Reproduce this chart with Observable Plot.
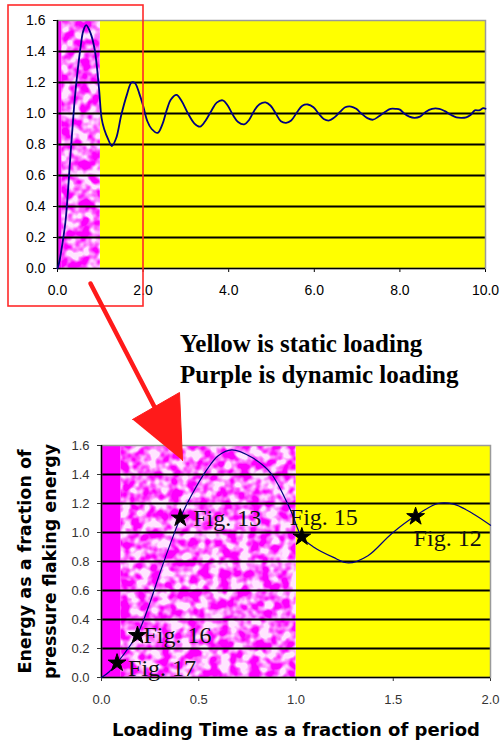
<!DOCTYPE html>
<html>
<head>
<meta charset="utf-8">
<script src="https://cdn.jsdelivr.net/npm/d3@7"></script>
<script src="https://cdn.jsdelivr.net/npm/@observablehq/plot@0.6"></script>
<style>
  html, body { margin: 0; padding: 0; background: #fff; }
  #page { position: relative; width: 504px; height: 742px; overflow: hidden; background: #fff; }
  #top, #bottom, #overlay { position: absolute; left: 0; }
  #top { top: 0; }
  #bottom { top: 430px; }
  #overlay { top: 0; pointer-events: none; }
  #legend { position: absolute; left: 180px; top: 328px; font: bold 25px/31px "Liberation Serif", "Times New Roman", serif; color: #000; white-space: nowrap; }
</style>
</head>
<body>
<div id="page">
  <div id="top"></div>
  <div id="legend"></div>
  <div id="bottom"></div>
  <div id="overlay"></div>
</div>
<script>
// ---- data ----
const curveTime   = [0, 0.04, 0.08, 0.185, 0.25, 0.3, 0.37, 0.405, 0.46, 0.54, 0.6, 0.67, 0.77, 0.87, 0.97, 1.03, 1.09, 1.19, 1.27, 1.37, 1.49, 1.62, 1.73, 1.81, 1.91, 2.0,
  2.1, 2.2, 2.34, 2.45, 2.55, 2.65, 2.78, 2.9, 3.05, 3.2, 3.33, 3.45, 3.6, 3.72, 3.86, 3.98, 4.1, 4.22, 4.36, 4.48, 4.6, 4.72, 4.86, 4.98,
  5.1, 5.22, 5.34, 5.46, 5.6, 5.72, 5.85, 5.98, 6.1, 6.22, 6.35, 6.47, 6.6, 6.72, 6.86, 6.98, 7.1, 7.24, 7.37, 7.5, 7.65, 7.78, 7.91, 8.0,
  8.1, 8.22, 8.34, 8.47, 8.6, 8.75, 8.92, 9.05, 9.2, 9.32, 9.43, 9.55, 9.65, 9.75, 9.85, 9.95, 10];
const curveEnergy = [0, 0.04, 0.10, 0.30, 0.52, 0.72, 0.98, 1.10, 1.25, 1.43, 1.53, 1.57, 1.52, 1.41, 1.16, 0.97, 0.90, 0.83, 0.79, 0.84, 0.99, 1.12, 1.20, 1.196, 1.13, 1.05,
  0.95, 0.90, 0.875, 0.93, 1.02, 1.09, 1.12, 1.08, 1.0, 0.935, 0.915, 0.95, 1.02, 1.07, 1.085, 1.05, 0.99, 0.945, 0.93, 0.96, 1.02, 1.06, 1.072, 1.05,
  1.0, 0.95, 0.94, 0.955, 1.01, 1.05, 1.058, 1.04, 1.0, 0.965, 0.955, 0.975, 1.01, 1.04, 1.045, 1.03, 1.0, 0.97, 0.96, 0.98, 1.01, 1.03, 1.03, 1.025,
  1.0, 0.98, 0.972, 0.98, 1.01, 1.03, 1.03, 1.015, 0.99, 0.975, 0.972, 0.975, 0.99, 1.02, 1.02, 1.035, 1.03];

const figNames  = ["Fig. 17", "Fig. 16", "Fig. 13", "Fig. 15", "Fig. 12"];
const figTime   = [0.08, 0.185, 0.405, 1.03, 1.615];
const figEnergy = [0.10, 0.29, 1.10, 0.97, 1.11];

const regionStart = [0, 0.1, 1];
const regionEnd   = [0.1, 1, 10];
const regionKind  = ["dynamic-solid", "dynamic", "static"];

const yTicks       = [0, 0.2, 0.4, 0.6, 0.8, 1.0, 1.2, 1.4, 1.6];
const gridLevels   = [0.2, 0.4, 0.6, 0.8, 1.0, 1.2, 1.4];
const topXTicks    = [0, 2, 4, 6, 8, 10];
const bottomXTicks = [0, 0.5, 1, 1.5, 2];

const legendLines = ["Yellow is static loading", "Purple is dynamic loading"];
const yTitleLines = ["Energy as a fraction of", "pressure flaking energy"];
const xTitle = "Loading Time as a fraction of period";

// ---- annotation geometry (page pixels) ----
const zoomBox = {x1: 8, y1: 5, x2: 143, y2: 306};
const arrowShaft = [[90, 283], [160, 418]];
const arrowHead  = [[132, 419], [179, 392], [182, 460]];

// ---- build tables ----
const curve = curveTime.map((t, i) => ({t, e: curveEnergy[i]}));
const figs = figNames.map((name, i) => ({name, t: figTime[i], e: figEnergy[i]}));
const regions = regionKind.map((kind, i) => ({kind, x1: regionStart[i], x2: regionEnd[i]}));
const TEXTURE_FILL = "#fe00fe";
const kindFill = {"dynamic-solid": "#ff00ff", "dynamic": TEXTURE_FILL, "static": "#ffff00"};

function addMottle(svg, id) {
  const s = d3.select(svg);
  s.insert("defs", ":first-child").html(`
    <filter id="${id}" x="0" y="0" width="1" height="1" color-interpolation-filters="sRGB">
      <feTurbulence type="fractalNoise" baseFrequency="0.1" numOctaves="2" seed="11" result="noise"/>
      <feColorMatrix in="noise" type="matrix" values="0 0 0 0 1  0 0 0 0 0.9  0 0 0 0 1  3.3 0 0 0 -1.15" result="spots"/>
      <feComposite in="spots" in2="SourceGraphic" operator="over"/>
    </filter>`);
  s.selectAll("g, rect").filter(function() {
    const f = (this.getAttribute("fill") || "").toLowerCase();
    return f === TEXTURE_FILL || this.getAttribute("aria-description") === "dynamic-texture";
  }).each(function() {
    const el = d3.select(this);
    if (this.tagName.toLowerCase() === "g") el.selectAll("rect").attr("filter", `url(#${id})`);
    else el.attr("filter", `url(#${id})`);
  });
}

function chart({xMax, xTicks, height, marginLeft, marginRight, marginTop, marginBottom, tickFont, tickColor, tickPadX, lineWidth, extra, id}) {
  const regs = regions.filter(r => r.x1 < xMax).map(r => ({...r, x2: Math.min(r.x2, xMax)}));
  const svg = Plot.plot({
    width: 504, height, marginLeft, marginRight, marginTop, marginBottom,
    style: {background: "transparent", fontFamily: "'Liberation Sans', Arial, sans-serif", fontSize: tickFont + "px", color: tickColor, overflow: "visible"},
    x: {domain: [0, xMax], ticks: xTicks, tickFormat: d3.format(".1f"), tickSize: 4, tickPadding: tickPadX, label: null},
    y: {domain: [0, 1.6], ticks: yTicks, tickFormat: d3.format(".1f"), tickSize: 4, tickPadding: 8, label: null},
    marks: [
      Plot.rect(regs.filter(r => r.kind === "static"), {x1: "x1", x2: "x2", fill: kindFill.static}),
      Plot.rect(regs.filter(r => r.kind === "dynamic"), {x1: "x1", x2: "x2", fill: kindFill.dynamic, ariaDescription: "dynamic-texture"}),
      Plot.rect(regs.filter(r => r.kind === "dynamic-solid"), {x1: "x1", x2: "x2", fill: kindFill["dynamic-solid"]}),
      Plot.ruleY(gridLevels, {stroke: "#000", strokeWidth: 1.8}),
      Plot.frame({stroke: "#9a9a9a", strokeWidth: 1.5}),
      Plot.ruleX([0], {stroke: "#000", strokeWidth: 1.5}),
      Plot.ruleY([0], {stroke: "#000", strokeWidth: 1.5}),
      Plot.line(curve.filter(d => d.t <= xMax), {x: "t", y: "e", stroke: "#000080", strokeWidth: lineWidth, curve: "catmull-rom"}),
      ...extra
    ]
  });
  addMottle(svg, id);
  return svg;
}

// top overview chart
document.getElementById("top").appendChild(chart({
  xMax: 10, xTicks: topXTicks, height: 310,
  marginLeft: 57, marginRight: 19, marginTop: 20, marginBottom: 42,
  tickFont: 14, tickColor: "#000", tickPadX: 13, lineWidth: 1.8, extra: [], id: "mottleTop"
}));

// bottom zoomed chart
const labelOffsets = [[11, 5], [6, 0], [13, 0], [-12, -20], [-2, 22]];
const figLabelMarks = figs.map((f, i) => Plot.text([f], {
  x: "t", y: "e", text: "name", textAnchor: "start",
  dx: labelOffsets[i][0], dy: labelOffsets[i][1],
  fontFamily: "'Liberation Serif', 'Times New Roman', serif", fontSize: 24, fill: "#111"
}));
document.getElementById("bottom").appendChild(chart({
  xMax: 2, xTicks: bottomXTicks, height: 312,
  marginLeft: 101, marginRight: 14, marginTop: 15, marginBottom: 65,
  tickFont: 13, tickColor: "#333", tickPadX: 13, lineWidth: 1.2, id: "mottleBottom",
  extra: [
    Plot.dot(figs, {x: "t", y: "e", symbol: "star", r: 5.6, fill: "#000", stroke: "#000", strokeWidth: 1}),
    ...figLabelMarks,
    Plot.text([yTitleLines.join("\n")], {frameAnchor: "left", textAnchor: "middle", lineAnchor: "middle", rotate: -90, dx: -66, lineHeight: 1.42,
      fontFamily: "'DejaVu Sans', Verdana, sans-serif", fontWeight: "bold", fontSize: 17.5, fill: "#000"}),
    Plot.text([xTitle], {frameAnchor: "bottom", textAnchor: "middle", lineAnchor: "middle", dy: 53,
      fontFamily: "'DejaVu Sans', Verdana, sans-serif", fontWeight: "bold", fontSize: 18, fill: "#000"})
  ]
}));

// legend text
document.getElementById("legend").innerHTML = legendLines.join("<br>");

// overlay: red zoom box and arrow, in page pixel coordinates
document.getElementById("overlay").appendChild(Plot.plot({
  width: 504, height: 742, margin: 0,
  style: {background: "transparent"},
  x: {domain: [0, 504], range: [0, 504], axis: null},
  y: {domain: [0, 742], range: [0, 742], axis: null},
  marks: [
    Plot.rect([zoomBox], {x1: "x1", x2: "x2", y1: "y1", y2: "y2", fill: "none", stroke: "#ff2a2a", strokeWidth: 1.6}),
    Plot.line(arrowShaft, {x: d => d[0], y: d => d[1], stroke: "#ff1a1a", strokeWidth: 4.5}),
    Plot.line(arrowHead, {x: d => d[0], y: d => d[1], fill: "#ff1a1a", stroke: "#ff1a1a", strokeWidth: 1})
  ]
}));
</script>
</body>
</html>
